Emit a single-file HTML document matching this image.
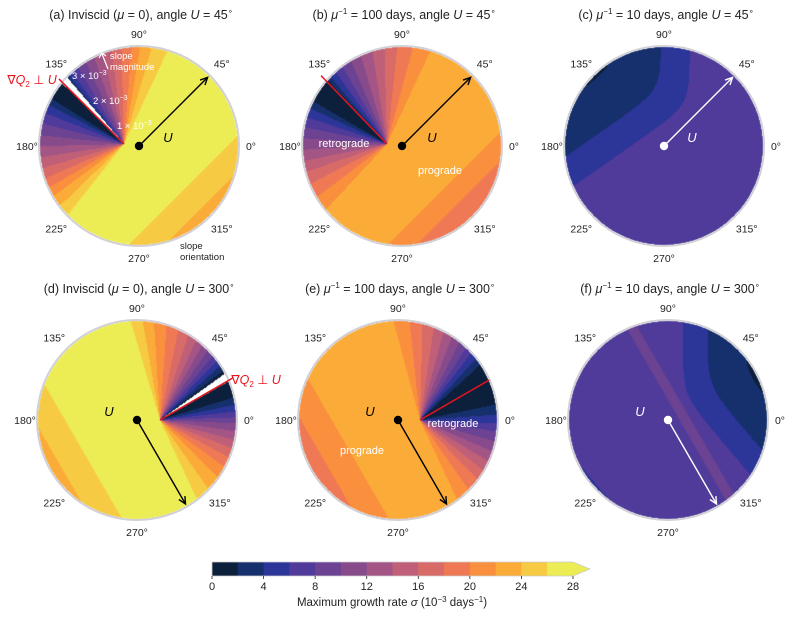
<!DOCTYPE html>
<html><head><meta charset="utf-8"><style>
html,body{margin:0;padding:0;background:#fff;width:800px;height:620px;overflow:hidden}
#wrap{position:relative;width:800px;height:620px}
canvas,svg{position:absolute;left:0;top:0}
text{font-family:"Liberation Sans","DejaVu Sans",sans-serif}
</style></head><body>
<div id="wrap">
<canvas id="cv" width="800" height="620"></canvas>
<svg id="sv" width="800" height="620"></svg>
</div>
<script>
// colour levels (growth rate bins of 2, 0..28)
const levels=[0,2,4,6,8,10,12,14,16,18,20,22,24,26,28];
const colors=["#0c1f3b","#15306c","#2c3598","#503b9a","#6b4392","#874b8b","#a35585","#bf5f78","#d86b67","#ee7954","#fa8f3e","#fbac38","#f6cb43","#ecec55"];
const tickVals=[0,4,8,12,16,20,24,28];

// fan (retrograde wedge) values by slope orientation (deg) from fan apex
const angA=[60,70,78,83,88,95,100,106,112,118,124,128,130,136,146,150,155,162,170,178,185,193,200,207,213,220,228,235];
const valA=[27,25,23,21,19,17,15,13,11,9,7,5,3,1,1,3,5,7,9,11,13,15,17,19,21,23,25,27];
const angB=[60,70,80,88,95,103,110,117,123,128,132,134,148,152,158,165,172,180,188,195,203,212,222,232];
const valB=[23,21,19,17,15,13,11,9,7,5,3,1,1,3,5,7,9,11,13,15,17,19,21,23];
const angD=[-70,-60,-50,-40,-32,-25,-18,-12,-5,0,4,9,14,20,29,36,40,44,48,53,58,63,68,75,82,90,97,103,110];
const valD=[27,25,23,21,19,17,15,13,11,9,7,5,3,1,1,1,3,5,7,9,11,13,15,17,19,21,23,25,27];
const angE=[-70,-60,-50,-42,-35,-27,-20,-12,-5,0,8,15,40,45,50,55,60,66,72,78,85,92,100,110];
const valE=[23,21,19,17,15,13,11,9,7,5,3,1,1,3,5,7,9,11,13,15,17,19,21,23];
// band values across the flow (distance perpendicular to U, in radius units)
const bandEdgesA=[0.63,0.89], bandValsA=[27,25,23];
const bandEdgesB=[0.6,0.81], bandValsB=[23,21,19];
const bandEdgesD=[0.63,0.9], bandValsD=[27,25,23];
const bandEdgesE=[0.58,0.85], bandValsE=[23,21,19];
// strongly damped panels: contour levels of a rounded-corner field
const bandEdgesC=[-1.3,-0.07,0.22,0.68], bandValsC=[5,7,5,3,1];
const bandEdgesF=[-1.25,0,0.25,0.62], bandValsF=[5,7,5,3,1];
const uAngles=[45,45,45,300,300,300];

const R=99;
// corner-shape fields for c and f (L1: vertical edge, L2: slanted edge)
function cornerC(dx,dy){const L1=0.19-dx;const L2=(dy-0.7*dx-0.32)/1.22;return softmin(L1,L2,0.09);}
function cornerF(dx,dy){const L1=dx-0.15;const L2=(dy+1.18*dx-0.43)/1.55;return softmin(L1,L2,0.07);}
function softmin(a,b,s){const m=Math.min(a,b);return m-s*Math.log(Math.exp(-(a-m)/s)+Math.exp(-(b-m)/s));}

const panels=[
 {id:"a",cx:139,cy:146,ax:124,ay:144,ang:angA,val:valA,be:bandEdgesA,bv:bandValsA,gap:[130.5,135.5],fan:true},
 {id:"b",cx:402,cy:146,ax:387,ay:144,ang:angB,val:valB,be:bandEdgesB,bv:bandValsB,gap:null,fan:true},
 {id:"c",cx:664,cy:146,be:bandEdgesC,bv:bandValsC,field:cornerC,fan:false},
 {id:"d",cx:137,cy:420,ax:160,ay:420,ang:angD,val:valD,be:bandEdgesD,bv:bandValsD,gap:[29.5,35.5],fan:true},
 {id:"e",cx:398,cy:420,ax:420,ay:420,ang:angE,val:valE,be:bandEdgesE,bv:bandValsE,gap:null,fan:true},
 {id:"f",cx:668,cy:420,be:bandEdgesF,bv:bandValsF,field:cornerF,fan:false}
];
function bandVal(edges,vals,s){let i=0;while(i<edges.length&&s>edges[i])i++;return vals[i];}
function hex(c){return [parseInt(c.slice(1,3),16),parseInt(c.slice(3,5),16),parseInt(c.slice(5,7),16)];}
const rgb=colors.map(hex);
function binOf(v){let k=Math.floor((v-levels[0])/(levels[1]-levels[0]));return Math.max(0,Math.min(colors.length-1,k));}

const cv=document.getElementById('cv');const ctx=cv.getContext('2d');
const img=ctx.createImageData(800,620);
panels.forEach((p,pi)=>{
  const u=uAngles[pi]*Math.PI/180;
  const ux=Math.cos(u),uy=Math.sin(u);
  for(let y=Math.floor(p.cy-R-1);y<=p.cy+R+1;y++){
    for(let x=Math.floor(p.cx-R-1);x<=p.cx+R+1;x++){
      const dx=(x+0.5-p.cx)/R,dy=-(y+0.5-p.cy)/R;const rr=Math.hypot(dx,dy);
      if(rr>1)continue;
      const qq=-dx*uy+dy*ux;          // U+90
      let col,v;
      if(p.fan){
        let a=Math.atan2(-(y+0.5-p.ay),x+0.5-p.ax)*180/Math.PI;
        const lo=p.ang[0],hi=p.ang[p.ang.length-1];
        let aa=a; if(aa<lo)aa+=360; if(aa>lo+360)aa-=360;
        if(p.gap&&a>p.gap[0]&&a<p.gap[1]&&Math.hypot(x-p.ax,y-p.ay)>3){col=[255,255,255];}
        else if(aa>=lo&&aa<=hi){
          for(let i=0;i<p.ang.length-1;i++){if(aa>=p.ang[i]&&aa<=p.ang[i+1]){const t=(aa-p.ang[i])/(p.ang[i+1]-p.ang[i]);v=p.val[i]+t*(p.val[i+1]-p.val[i]);break;}}
        } else { v=bandVal(p.be,p.bv,-qq); }
      } else {
        v=bandVal(p.be,p.bv,p.field(dx,dy));
      }
      if(!col)col=rgb[binOf(v)];
      const o=(y*800+x)*4;img.data[o]=col[0];img.data[o+1]=col[1];img.data[o+2]=col[2];img.data[o+3]=255;
    }
  }
});
ctx.putImageData(img,0,0);
// panel (f) lighter ridge along U
(function(){const p=panels[5];ctx.save();ctx.beginPath();ctx.arc(p.cx,p.cy,R,0,2*Math.PI);ctx.clip();
 ctx.translate(p.cx,p.cy);ctx.rotate(-(uAngles[5])*Math.PI/180);ctx.fillStyle="#6b4392";ctx.fillRect(-200,-20,400,10);ctx.restore();})();

const sv=document.getElementById('sv');const NS="http://www.w3.org/2000/svg";
function el(tag,attrs,parent){const e=document.createElementNS(NS,tag);for(const k in attrs)e.setAttribute(k,attrs[k]);(parent||sv).appendChild(e);return e;}
function txt(x,y,s,size,fill,anchor,name,extra){const t=el('text',Object.assign({x:x,y:y,'font-size':size,fill:fill,'text-anchor':anchor||'middle'},extra||{}));t.innerHTML=s;


return t;}

const titles=[
 '(a) Inviscid (<tspan font-style="italic">μ</tspan> = 0), angle <tspan font-style="italic">U</tspan> = 45<tspan dy="-5" font-size="8">∘</tspan>',
 '(b) <tspan font-style="italic">μ</tspan><tspan dy="-5" font-size="8">−1</tspan><tspan dy="5"> = 100 days, angle </tspan><tspan font-style="italic">U</tspan> = 45<tspan dy="-5" font-size="8">∘</tspan>',
 '(c) <tspan font-style="italic">μ</tspan><tspan dy="-5" font-size="8">−1</tspan><tspan dy="5"> = 10 days, angle </tspan><tspan font-style="italic">U</tspan> = 45<tspan dy="-5" font-size="8">∘</tspan>',
 '(d) Inviscid (<tspan font-style="italic">μ</tspan> = 0), angle <tspan font-style="italic">U</tspan> = 300<tspan dy="-5" font-size="8">∘</tspan>',
 '(e) <tspan font-style="italic">μ</tspan><tspan dy="-5" font-size="8">−1</tspan><tspan dy="5"> = 100 days, angle </tspan><tspan font-style="italic">U</tspan> = 300<tspan dy="-5" font-size="8">∘</tspan>',
 '(f) <tspan font-style="italic">μ</tspan><tspan dy="-5" font-size="8">−1</tspan><tspan dy="5"> = 10 days, angle </tspan><tspan font-style="italic">U</tspan> = 300<tspan dy="-5" font-size="8">∘</tspan>'
];
const angLabels=[0,45,90,135,180,225,270,315];
panels.forEach((p,i)=>{
  const c=el('circle',{cx:p.cx,cy:p.cy,r:R+1,fill:'none',stroke:'#d0d0d6','stroke-width':2});
  
  
  txt(p.cx+2,p.cy-127,titles[i],12.5,'#222','middle','panel-title-'+p.id);
  angLabels.forEach(a=>{const rr=a%90===0?112:117;const x=p.cx+rr*Math.cos(a*Math.PI/180);const y=p.cy-rr*Math.sin(a*Math.PI/180)+4;
    txt(x,y,a+'°',10.5,'#222','middle','angle-label-'+a);});
  const white=!p.fan;const col=white?'#fff':'#000';
  const ex=p.cx+(R-2)*Math.cos(uAngles[i]*Math.PI/180),ey=p.cy-(R-2)*Math.sin(uAngles[i]*Math.PI/180);
  const ln=el('line',{x1:p.cx,y1:p.cy,x2:ex,y2:ey,stroke:col,'stroke-width':1.4});
  
  
  const th=-uAngles[i]*Math.PI/180;const hl=8;
  const h=el('path',{d:`M${ex-hl*Math.cos(th-0.45)},${ey-hl*Math.sin(th-0.45)} L${ex},${ey} L${ex-hl*Math.cos(th+0.45)},${ey-hl*Math.sin(th+0.45)}`,fill:'none',stroke:col,'stroke-width':1.4});
  
  
  const dot=el('circle',{cx:p.cx,cy:p.cy,r:4.2,fill:col});
  
  
});
// U labels
[[168,142,'#000'],[432,142,'#000'],[692,142,'#fff'],[109,416,'#000'],[370,416,'#000'],[640,416,'#fff']].forEach((u,i)=>{
  txt(u[0],u[1],'U',13,u[2],'middle','u-label-'+panels[i].id,{'font-style':'italic'});});
// red lines (grad Q2 perpendicular to U)
[[124,144,135,92],[387,144,134,95],[160,420,30,84],[420,420,30,80]].forEach((r,i)=>{
  const l=el('line',{x1:r[0],y1:r[1],x2:r[0]+r[3]*Math.cos(r[2]*Math.PI/180),y2:r[1]-r[3]*Math.sin(r[2]*Math.PI/180),stroke:'#e8141c','stroke-width':1.5});
  
  
});
txt(32,84,'∇<tspan font-style="italic">Q</tspan><tspan dy="3" font-size="8">2</tspan><tspan dy="-3"> ⊥ </tspan><tspan font-style="italic">U</tspan>',12.5,'#e8141c','middle','gradq-label-a');
txt(256,384,'∇<tspan font-style="italic">Q</tspan><tspan dy="3" font-size="8">2</tspan><tspan dy="-3"> ⊥ </tspan><tspan font-style="italic">U</tspan>',12.5,'#e8141c','middle','gradq-label-d');
// slope magnitude annotations
txt(110,59,'slope',9.5,'#fff','start','slope-magnitude-label');
txt(110,70,'magnitude',9.5,'#fff','start','slope-magnitude-label-2');
const sa=el('path',{d:'M108,69 L102,54 M99,58 L102,53 L106,56',fill:'none',stroke:'#fff','stroke-width':1.2});

txt(72,79,'3 × 10<tspan dy="-4" font-size="7">−3</tspan>',9.5,'#fff','start','magnitude-tick-3');
txt(93,104,'2 × 10<tspan dy="-4" font-size="7">−3</tspan>',9.5,'#fff','start','magnitude-tick-2');
txt(117,129,'1 × 10<tspan dy="-4" font-size="7">−3</tspan>',9.5,'#fff','start','magnitude-tick-1');
txt(180,249,'slope',9.5,'#222','start','slope-orientation-label');
txt(180,260,'orientation',9.5,'#222','start','slope-orientation-label-2');
txt(344,147,'retrograde',11,'#fff','middle','retrograde-label-b');
txt(440,174,'prograde',11,'#fff','middle','prograde-label-b');
txt(453,427,'retrograde',11,'#fff','middle','retrograde-label-e');
txt(362,454,'prograde',11,'#fff','middle','prograde-label-e');

// colour bar
const cbX0=212,cbX1=573,cbY=562,cbH=14;
function cbx(v){return cbX0+(v-levels[0])/(levels[levels.length-1]-levels[0])*(cbX1-cbX0);}
for(let i=0;i<colors.length;i++){
  const r=el('rect',{x:cbx(levels[i]),y:cbY,width:cbx(levels[i+1])-cbx(levels[i])+0.5,height:cbH,fill:colors[i]});
  
  
}
const tri=el('path',{d:`M${cbX1},${cbY} L${cbX1+17},${cbY+cbH/2} L${cbX1},${cbY+cbH} Z`,fill:colors[colors.length-1]});

const fr=el('path',{d:`M${cbX0},${cbY} L${cbX1},${cbY} L${cbX1+17},${cbY+cbH/2} L${cbX1},${cbY+cbH} L${cbX0},${cbY+cbH} Z`,fill:'none',stroke:'#ccc','stroke-width':0.8});

tickVals.forEach(v=>{
  const t=el('line',{x1:cbx(v),y1:cbY+cbH,x2:cbx(v),y2:cbY+cbH+3,stroke:'#222','stroke-width':0.8});
  
  txt(cbx(v),cbY+cbH+14,String(v),11,'#222','middle','colorbar-tick-label');
});
txt(392,606,'Maximum growth rate <tspan font-style="italic">σ</tspan> (10<tspan dy="-4" font-size="8">−3</tspan><tspan dy="4"> days</tspan><tspan dy="-4" font-size="8">−1</tspan><tspan dy="4">)</tspan>',11.5,'#222','middle','colorbar-title');
</script>
</body></html>
